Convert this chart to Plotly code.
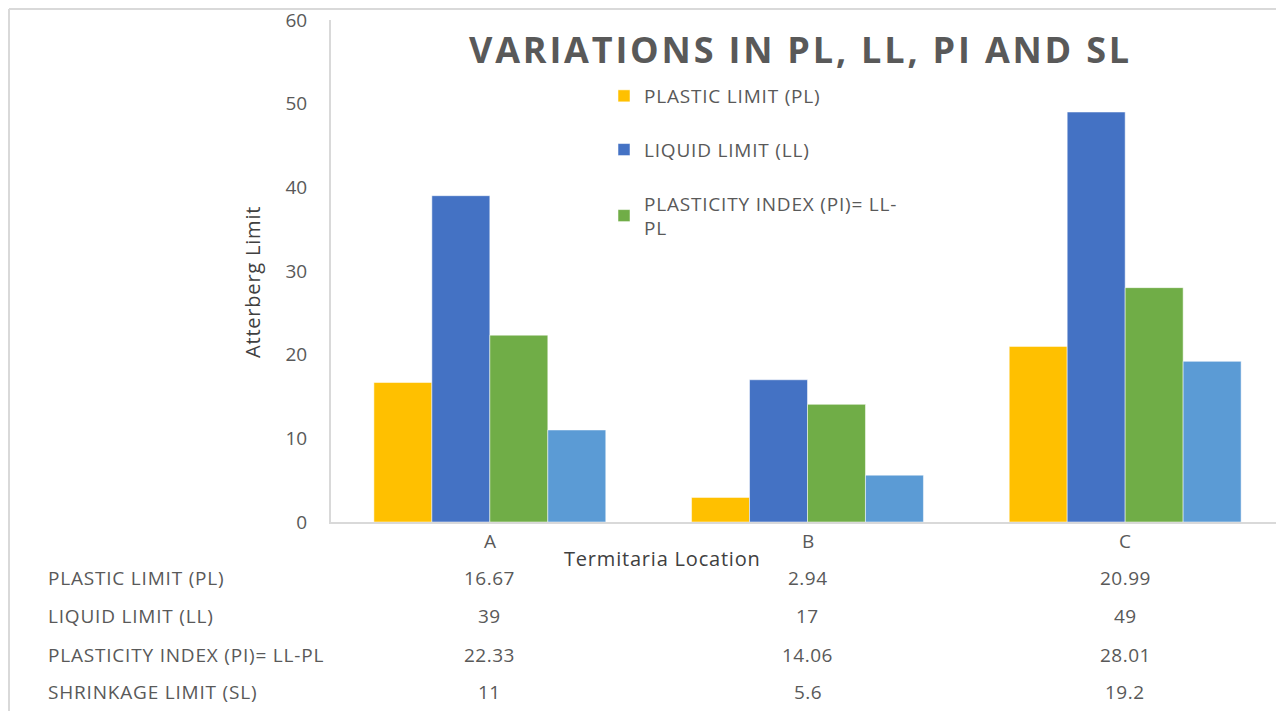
import plotly.graph_objects as go

categories = ["A", "B", "C"]
plastic_limit = [16.67, 2.94, 20.99]
liquid_limit = [39, 17, 49]
plasticity_index = [22.33, 14.06, 28.01]
shrinkage_limit = [11, 5.6, 19.2]

series_names = ["PLASTIC LIMIT (PL)", "LIQUID LIMIT (LL)", "PLASTICITY INDEX (PI)= LL-PL", "SHRINKAGE LIMIT (SL)"]
legend_names = ["PLASTIC LIMIT (PL)", "LIQUID LIMIT (LL)", "PLASTICITY INDEX (PI)= LL-<br>PL", "SHRINKAGE LIMIT (SL)"]
series_values = [plastic_limit, liquid_limit, plasticity_index, shrinkage_limit]
colors = ["#FFC000", "#4472C4", "#70AD47", "#5B9BD5"]
show_in_legend = [True, True, True, False]
y_ticks = [0, 10, 20, 30, 40, 50, 60]

OFF = 8  # page body margin of the html page
W, H = 1284 - OFF, 711 - OFF
L, R, T, B = 331 - OFF, 0, 20 - OFF, 711 - 522
pw, ph = W - L - R, H - T - B


def px_x(x):
    """page pixel x -> paper coordinate"""
    return (x - OFF - L) / pw


def px_y(y):
    """page pixel y -> paper coordinate"""
    return 1 - (y - OFF - T) / ph


FONT = "Open Sans"
GREY = "#595959"
DARK = "#404040"


def spaced(t, s=1.0):
    return f'<span style="letter-spacing:{s}px">{t}</span>'


x_idx = list(range(len(categories)))

fig = go.Figure()
for i, (name, vals, col, sl) in enumerate(zip(legend_names, series_values, colors, show_in_legend)):
    fig.add_trace(go.Bar(
        x=x_idx, y=vals, name=spaced(name, 0.8),
        marker=dict(color=col, line=dict(color="rgba(255,255,255,0.5)", width=1)),
        showlegend=sl, legendgroup=f"g{i}",
    ))

annotations = []
TS = 19
row_y = [578, 616, 655, 692]
for name, vals, yy in zip(series_names, series_values, row_y):
    annotations.append(dict(text=spaced(name, 0.8), xref="paper", yref="paper", x=px_x(46), y=px_y(yy),
                            xanchor="left", yanchor="middle", showarrow=False,
                            font=dict(family=FONT, size=TS, color=GREY)))
    for xi, v in zip(x_idx, vals):
        annotations.append(dict(text=spaced(f"{v:g}", 0.5), xref="x", yref="paper", x=xi, y=px_y(yy),
                                xanchor="center", yanchor="middle", showarrow=False,
                                font=dict(family=FONT, size=TS, color=GREY)))
for xi, c in zip(x_idx, categories):
    annotations.append(dict(text=c, xref="x", yref="paper", x=xi, y=px_y(541),
                            xanchor="center", yanchor="middle", showarrow=False,
                            font=dict(family=FONT, size=TS, color=GREY)))
annotations.append(dict(text=spaced("Termitaria Location", 0.8), xref="paper", yref="paper",
                        x=px_x(662), y=px_y(558), xanchor="center", yanchor="middle", showarrow=False,
                        font=dict(family=FONT, size=20, color=DARK)))
annotations.append(dict(text=spaced("Atterberg Limit", 0.8), xref="paper", yref="paper",
                        x=px_x(252), y=px_y(282), xanchor="center", yanchor="middle", showarrow=False,
                        textangle=-90, font=dict(family=FONT, size=20, color=DARK)))
annotations.append(dict(text=spaced("<b>VARIATIONS IN PL, LL, PI AND SL</b>", 2.8), xref="paper", yref="paper",
                        x=px_x(800), y=px_y(50), xanchor="center", yanchor="middle", showarrow=False,
                        font=dict(family=FONT, size=36, color=GREY)))

shapes = [
    dict(type="line", xref="paper", yref="paper", x0=px_x(9), x1=px_x(9), y0=px_y(9), y1=px_y(711),
         line=dict(color="#d9d9d9", width=2)),
    dict(type="line", xref="paper", yref="paper", x0=px_x(9), x1=px_x(1284), y0=px_y(9), y1=px_y(9),
         line=dict(color="#d9d9d9", width=2)),
]

fig.update_layout(
    width=W, height=H, autosize=False,
    margin=dict(l=L, r=R, t=T, b=B, pad=0),
    paper_bgcolor="white", plot_bgcolor="white",
    barmode="group", bargap=0.27, bargroupgap=0,
    font=dict(family=FONT, color=GREY),
    xaxis=dict(range=[-0.5, 2.5], showticklabels=False, ticks="", showgrid=False, zeroline=False,
               showline=True, linecolor="#d9d9d9", linewidth=2, fixedrange=True),
    yaxis=dict(range=[0, 60], tickvals=y_ticks, showgrid=False, zeroline=False,
               showline=True, linecolor="#d9d9d9", linewidth=2, ticks="", ticklabelstandoff=18,
               ticklabeloverflow="allow",
               tickfont=dict(family=FONT, size=19, color=GREY)),
    legend=dict(x=px_x(604), y=px_y(77), xanchor="left", yanchor="top", traceorder="grouped",
                tracegroupgap=26, font=dict(family=FONT, size=TS, color=GREY), bgcolor="rgba(0,0,0,0)",
                itemwidth=30),
    annotations=annotations, shapes=shapes,
)

fig.write_html("out.html")
